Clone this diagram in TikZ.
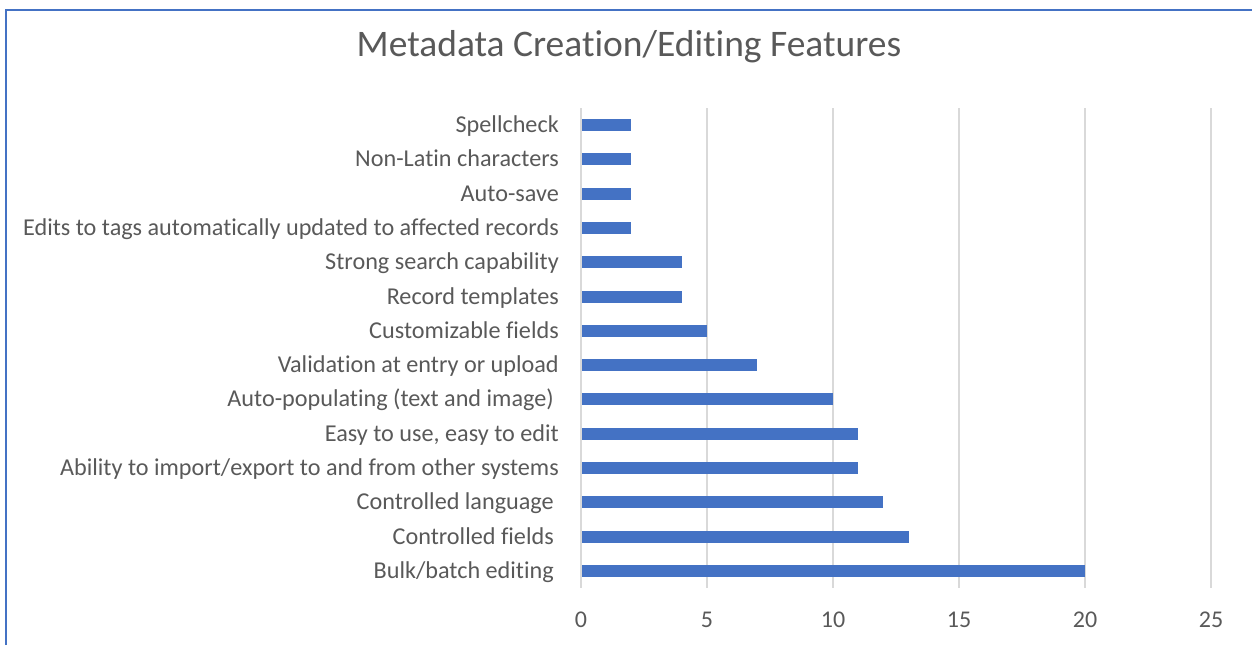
\documentclass[tikz,border=0pt]{standalone}
\usepackage{fontspec}
\setmainfont[RawFeature=-liga]{Carlito}
\definecolor{barblue}{HTML}{4472C4}
\definecolor{txt}{HTML}{595959}
\definecolor{gridc}{HTML}{D9D9D9}
\begin{document}
\begin{tikzpicture}[x=1pt,y=-1pt,
  lab/.style={anchor=base east,inner sep=0pt,text=txt,font=\fontsize{24.2}{28}\selectfont},
  tick/.style={anchor=base,inner sep=0pt,text=txt,font=\fontsize{24}{28}\selectfont},
  bar/.style={fill=barblue},
  gridl/.style={draw=gridc,line width=1.6pt},
  frame/.style={draw=barblue,line width=2pt}]
\useasboundingbox (0,0) rectangle (1252,645);
\draw[frame] (5.5,645) -- (5.5,9.5) -- (1252,9.5);
\node[anchor=base,inner sep=0pt,text=txt,font=\fontsize{37.5}{42}\selectfont] (title) at (629,56) {Metadata Creation/Editing Features};
\foreach \k in {0,...,5}{
  \draw[gridl] ({581+25.2*5*\k},108) -- ({581+25.2*5*\k},588);
  \pgfmathtruncatemacro{\v}{5*\k}
  \node[tick] (t\k) at ({581+25.2*5*\k},627.5) {\v};
}
\foreach [count=\i from 0] \val/\name/\pad in {
  2/Spellcheck/0,
  2/Non-Latin characters/0,
  2/Auto-save/0,
  2/Edits to tags automatically updated to affected records/0,
  4/Strong search capability/0,
  4/Record templates/0,
  5/Customizable fields/0,
  7/Validation at entry or upload/0,
  10/Auto-populating (text and image)/5,
  11/{Easy to use, easy to edit}/0,
  11/Ability to import\slash export to and from other systems/0,
  12/Controlled language/5,
  13/Controlled fields/5,
  20/Bulk\slash batch editing/5}{
  \pgfmathsetmacro{\yc}{125+34.3*\i}
  \fill[bar] (582,\yc-6) rectangle ({581+25.2*\val},\yc+6);
  \node[lab] (l\i) at (559-\pad,\yc+7.5) {\name};
}
\end{tikzpicture}
\end{document}
